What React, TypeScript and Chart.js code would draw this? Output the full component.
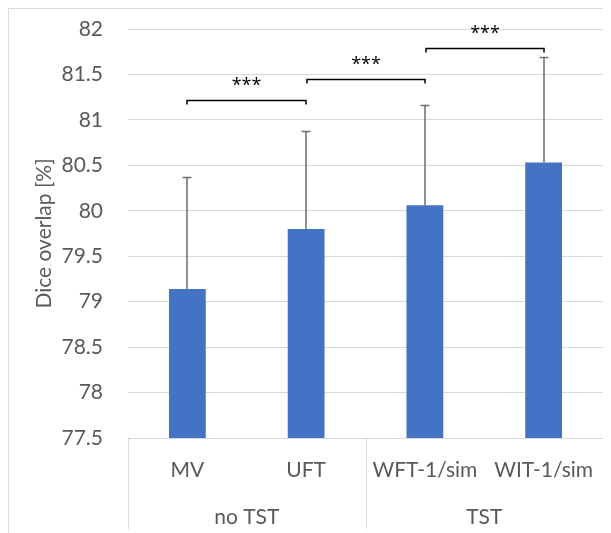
import React, { useEffect, useRef } from "react";
import { Chart, registerables } from "chart.js";

Chart.register(...registerables);

// Methods on the category axis, and the group each belongs to
const categories = ["MV", "UFT", "WFT-1/sim", "WIT-1/sim"];
const groupLabels = ["no TST", "TST"];
const groupSizes = [2, 2];

// Mean Dice overlap [%] and its standard deviation (upper error bar)
const meanDice = [79.14, 79.8, 80.06, 80.53];
const sdDice = [1.23, 1.08, 1.1, 1.16];

// Significance brackets: pairs of category indices, level on the y axis, label
const bracketFrom = [0, 1, 2];
const bracketTo = [1, 2, 3];
const bracketLevels = [81.22, 81.45, 81.79];
const bracketLabels = ["***", "***", "***"];

// Value axis
const yMin = 77.5;
const yMax = 82;
const yStep = 0.5;

const FONT = "Lato, 'Open Sans', sans-serif";
const TEXT = "#595959";
const LINE = "#d9d9d9";

const overlayPlugin = {
  id: "diceOverlay",
  afterDatasetsDraw(chart: any) {
    const { ctx, chartArea, scales } = chart;
    const xs = scales.x;
    const ys = scales.y;
    const h = chart.height;
    ctx.save();

    // chart frame (left and top edges)
    ctx.strokeStyle = LINE;
    ctx.lineWidth = 1;
    ctx.beginPath();
    ctx.moveTo(0.5, h);
    ctx.lineTo(0.5, 0.5);
    ctx.lineTo(chart.width, 0.5);
    ctx.stroke();

    // upper error bars
    ctx.strokeStyle = "#6e6e6e";
    ctx.lineWidth = 1.5;
    meanDice.forEach((m, i) => {
      const x = Math.round(xs.getPixelForValue(i));
      const yb = ys.getPixelForValue(m);
      const yt = Math.round(ys.getPixelForValue(m + sdDice[i])) + 0.5;
      ctx.beginPath();
      ctx.moveTo(x, yb);
      ctx.lineTo(x, yt);
      ctx.moveTo(x - 4.5, yt);
      ctx.lineTo(x + 4.5, yt);
      ctx.stroke();
    });

    // significance brackets
    ctx.strokeStyle = "#000";
    ctx.lineWidth = 1.5;
    ctx.fillStyle = "#000";
    ctx.font = "18px 'Open Sans', sans-serif";
    ctx.textAlign = "center";
    ctx.textBaseline = "alphabetic";
    bracketLevels.forEach((lv, k) => {
      const x1 = Math.round(xs.getPixelForValue(bracketFrom[k])) + (k > 0 ? 1 : 0);
      const x2 = Math.round(xs.getPixelForValue(bracketTo[k]));
      const y = Math.round(ys.getPixelForValue(lv)) + 0.5;
      ctx.beginPath();
      ctx.moveTo(x1, y + 4);
      ctx.lineTo(x1, y);
      ctx.lineTo(x2, y);
      ctx.lineTo(x2, y + 4);
      ctx.stroke();
      ctx.fillText(bracketLabels[k], (x1 + x2) / 2, y - 10);
    });

    // two-level category table
    const band = (chartArea.right - chartArea.left) / categories.length;
    const bottom = h - 4;
    ctx.strokeStyle = LINE;
    ctx.lineWidth = 1;
    ctx.beginPath();
    ctx.moveTo(chartArea.left, Math.round(chartArea.bottom) + 0.5);
    ctx.lineTo(chartArea.right, Math.round(chartArea.bottom) + 0.5);
    let acc = 0;
    const edges = [0];
    groupSizes.forEach((n) => {
      acc += n;
      edges.push(acc);
    });
    edges.forEach((e) => {
      const x = Math.round(chartArea.left + e * band) + 0.5;
      ctx.moveTo(x, chartArea.bottom);
      ctx.lineTo(x, bottom);
    });
    ctx.stroke();

    ctx.fillStyle = TEXT;
    ctx.font = `21px ${FONT}`;
    categories.forEach((c, i) => {
      ctx.fillText(c, xs.getPixelForValue(i), chartArea.bottom + 39);
    });
    groupLabels.forEach((g, k) => {
      const cx = chartArea.left + ((edges[k] + edges[k + 1]) / 2) * band;
      ctx.fillText(g, cx, chartArea.bottom + 86);
    });

    ctx.restore();
  },
};

export default function App() {
  const ref = useRef<HTMLCanvasElement>(null);

  useEffect(() => {
    document.documentElement.style.overflow = "hidden";
    const chart = new Chart(ref.current!, {
      type: "bar",
      data: {
        labels: categories,
        datasets: [
          {
            data: meanDice,
            backgroundColor: "#4472C4",
            categoryPercentage: 0.31,
            barPercentage: 1,
          },
        ],
      },
      options: {
        responsive: false,
        animation: false,
        layout: { padding: { top: 21, right: 8, left: 0, bottom: 0 } },
        plugins: {
          legend: { display: false },
          tooltip: { enabled: false },
        },
        scales: {
          x: {
            ticks: { display: false },
            grid: { display: false },
            border: { display: false },
            afterFit: (s: any) => {
              s.height = 95;
              s.paddingLeft = 0;
              s.paddingRight = 0;
            },
          },
          y: {
            min: yMin,
            max: yMax,
            ticks: {
              stepSize: yStep,
              color: TEXT,
              font: { family: FONT, size: 21 },
              padding: 25,
              callback: (v: any) => String(Number(v)),
            },
            grid: { color: LINE, lineWidth: 1, drawTicks: false },
            border: { display: false },
            title: {
              display: true,
              text: "Dice overlap [%]",
              color: TEXT,
              font: { family: FONT, size: 21 },
              padding: { top: 24, bottom: 0 },
            },
            afterFit: (s: any) => {
              s.width = 120;
              s.paddingTop = 0;
              s.paddingBottom = 0;
            },
          },
        },
      },
      plugins: [overlayPlugin],
    });
    return () => chart.destroy();
  }, []);

  return (
    <div style={{ width: 603, height: 525 }}>
      <canvas ref={ref} width={603} height={525} style={{ display: "block" }} />
    </div>
  );
}
